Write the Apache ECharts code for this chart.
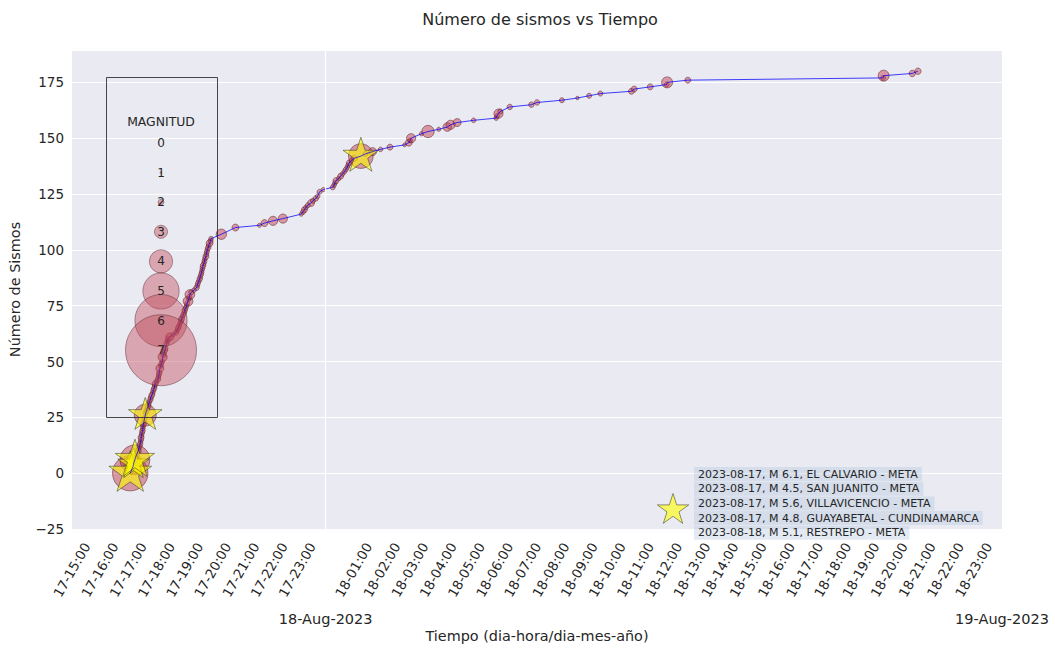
<!DOCTYPE html>
<html><head><meta charset="utf-8">
<script src="https://cdn.jsdelivr.net/npm/echarts@6/dist/echarts.min.js"></script>
<style>html,body{margin:0;padding:0;background:#fff}#c{width:1055px;height:648px}</style>
</head><body><div id="c"></div>
<script>
// ---- DATA ----
// time of each event: "DD HH:MM" (August 2023, UTC)
const tiempos = [
 '17 17:04','17 17:06','17 17:08','17 17:10','17 17:11','17 17:12','17 17:14','17 17:15','17 17:17','17 17:19',
 '17 17:21','17 17:22','17 17:24','17 17:25','17 17:26','17 17:27','17 17:27','17 17:28','17 17:29','17 17:30',
 '17 17:31','17 17:31','17 17:32','17 17:33','17 17:34','17 17:35','17 17:36','17 17:37','17 17:39','17 17:40',
 '17 17:42','17 17:43','17 17:45','17 17:47','17 17:48','17 17:50','17 17:52','17 17:53','17 17:55','17 17:56',
 '17 17:57','17 18:00','17 18:03','17 18:04','17 18:05','17 18:06','17 18:07','17 18:09','17 18:10','17 18:12',
 '17 18:13','17 18:15','17 18:16','17 18:18','17 18:19','17 18:21','17 18:23','17 18:25','17 18:28','17 18:35',
 '17 18:42','17 18:44','17 18:46','17 18:48','17 18:50','17 18:52','17 18:53','17 18:55','17 18:57','17 18:59',
 '17 19:00','17 19:02','17 19:04','17 19:05','17 19:07','17 19:09','17 19:10','17 19:11','17 19:14','17 19:20',
 '17 19:25','17 19:27','17 19:28','17 19:30','17 19:32','17 19:33','17 19:35','17 19:36','17 19:37','17 19:38',
 '17 19:39','17 19:41','17 19:42','17 19:43','17 19:45','17 19:46','17 19:47','17 19:48','17 19:50','17 19:51',
 '17 19:53','17 19:55','17 19:56','17 20:18','17 20:48','17 21:39','17 21:50','17 22:08','17 22:29','17 23:08',
 '17 23:12','17 23:15','17 23:18','17 23:22','17 23:29','17 23:33','17 23:39','17 23:43','17 23:47','17 23:55',
 '18 00:15','18 00:18','18 00:20','18 00:22','18 00:28','18 00:32','18 00:36','18 00:40','18 00:43','18 00:46',
 '18 00:48','18 00:50','18 00:55','18 01:01','18 01:15','18 01:25','18 01:40','18 01:57','18 02:17','18 02:48',
 '18 02:57','18 03:00','18 03:02','18 03:24','18 03:38','18 04:01','18 04:19','18 04:26','18 04:40','18 05:15',
 '18 06:03','18 06:05','18 06:08','18 06:12','18 06:32','18 07:18','18 07:30','18 08:23','18 08:56','18 09:21',
 '18 09:45','18 10:51','18 10:57','18 11:31','18 12:06','18 12:07','18 12:51','18 19:47','18 19:48','18 20:49',
 '18 21:01'
];
// cumulative number of earthquakes
const sismos = [
 0,1,2,3,4,5,6,7,8,9,
 10,11,12,13,14,15,16,17,18,19,
 20,21,22,23,24,25,26,27,28,29,
 30,31,32,33,34,35,36,37,38,39,
 40,41,42,43,44,45,47,48,49,50,
 52,53,54,55,56,58,59,60,61,62,
 63,64,65,66,67,68,69,70,71,72,
 73,74,75,76,77,78,79,80,81,82,
 83,84,85,86,87,88,89,90,91,92,
 93,94,95,96,97,98,99,100,101,102,
 103,104,105,107,110,111,112,113,114,116,
 117,118,119,120,121,122,123,124,126,127,
 128,129,130,131,132,133,134,135,136,137,
 138,139,140,141,142,143,144,145,146,147,
 148,149,150,152,153,154,155,156,157,158,
 159,160,161,162,164,165,166,167,168,169,
 170,171,172,173,174,175,176,177,178,179,
 180
];
// magnitude of each event
const magnitudes = [
 6.1,2.6,2.4,2.2,4.5,2.3,5.6,2.4,2.2,2.3,
 2.5,2.2,2.3,2.4,2.2,2.3,2.5,2.2,2.3,2.4,
 2.2,2.3,2.5,2.2,2.4,2.3,4.8,2.3,2.4,2.2,
 2.5,2.3,2.2,2.4,2.3,2.5,2.2,2.3,2.4,2.2,
 2.5,2.3,2.4,2.2,2.3,2.4,2.9,2.2,2.3,2.2,
 3.1,2.3,2.2,2.4,2.3,2.3,2.2,2.4,2.9,2.2,
 2.3,2.2,2.4,2.3,2.2,2.3,2.5,2.2,2.3,2.2,
 2.4,2.3,2.2,2.3,3.2,2.2,2.3,3.2,2.3,2.2,
 2.4,2.2,2.3,2.2,2.4,2.2,2.3,2.2,2.2,2.3,
 2.4,2.2,2.3,2.2,2.5,2.2,2.3,2.2,2.4,2.2,
 2.7,2.3,2.2,3.3,2.7,2.1,2.7,3.1,3.1,2.1,
 2.3,2.5,2.2,2.3,2.7,2.3,2.4,2.2,2.3,2.1,
 2.3,2.2,2.2,2.5,2.2,2.5,2.2,2.2,2.3,2.2,
 2.2,2.4,2.2,2.6,5.1,2.3,2.9,2.2,2.5,2.0,
 2.7,2.2,3.1,2.1,3.6,2.1,3.0,3.1,2.9,2.2,
 2.2,2.2,3.1,2.3,2.4,2.4,2.4,2.3,1.9,2.3,
 2.3,2.5,2.5,2.5,2.3,3.4,2.5,2.3,3.4,2.6,
 2.6
];
const magnitudLeyenda = [0,1,2,3,4,5,6,7];
const etiquetasEstrellas = [
 '2023-08-17, M 6.1, EL CALVARIO - META',
 '2023-08-17, M 4.5, SAN JUANITO - META',
 '2023-08-17, M 5.6, VILLAVICENCIO - META',
 '2023-08-17, M 4.8, GUAYABETAL - CUNDINAMARCA',
 '2023-08-18, M 5.1, RESTREPO - META'
];
const xInicio = '17 15:00', xFin = '19 00:00', lineaDia = '18 00:00';
const yMin = -25, yMax = 189.5, yPaso = 25;
const umbralEstrella = 4.5;

// ---- helpers ----
const HORA = 3600000;
const MESES = ['Jan','Feb','Mar','Apr','May','Jun','Jul','Aug','Sep','Oct','Nov','Dec'];
function toMs(s){const [d,hm]=s.split(' ');const [h,m]=hm.split(':').map(Number);return Date.UTC(2023,7,Number(d),h,m);}
const pad = n => String(n).padStart(2,'0');
const puntos = tiempos.map((t,i)=>[toMs(t), sismos[i], magnitudes[i]]);
const estrellas = puntos.filter(p=>p[2]>=umbralEstrella);
const STAR = 'path://M100,0L122.45,69.1L195.1,69.1L136.3,111.8L158.8,180.9L100,138.2L41.2,180.9L63.7,111.8L4.9,69.1L77.55,69.1Z';
function starPts(cx,cy,R){const pts=[];for(let k=0;k<10;k++){const a=-Math.PI/2+k*Math.PI/5;const r=k%2?R*0.382:R;pts.push([cx+r*Math.cos(a),cy+r*Math.sin(a)]);}return pts;}

const FONT = 'DejaVu Sans', TXT = '#262626';
const LEG_FILL = 'rgba(190,70,85,0.42)', LEG_EDGE = 'rgba(80,30,40,0.55)';
const CIRC_FILL = 'rgba(195,60,75,0.48)', CIRC_EDGE = 'rgba(85,30,35,0.65)';

// legend graphics
const graphics = [];
graphics.push({type:'rect', shape:{x:106.5,y:77.5,width:111,height:340}, style:{fill:'none',stroke:'rgba(40,40,40,0.85)',lineWidth:1}, z:100});
graphics.push({type:'text', x:161, y:121, style:{text:'MAGNITUD', font:'12.4px "DejaVu Sans"', fill:TXT, align:'center', verticalAlign:'middle'}, z:102});
magnitudLeyenda.forEach((m,i)=>{
  const cy = 143 + 29.6*i;
  const r = 1.45*m*m/2;
  if (r>0) graphics.push({type:'circle', shape:{cx:161,cy:cy,r:r}, style:{fill:LEG_FILL, stroke:LEG_EDGE, lineWidth:0.8}, z:101});
  graphics.push({type:'text', x:161, y:cy, style:{text:String(m), font:'12px "DejaVu Sans"', fill:TXT, align:'center', verticalAlign:'middle'}, z:102});
});
graphics.push({type:'polygon', shape:{points:starPts(673,510,16.5)}, style:{fill:'rgba(255,255,0,0.6)', stroke:'rgba(60,60,40,0.7)', lineWidth:0.8}, z:101});
etiquetasEstrellas.forEach((t,i)=>{
  graphics.push({type:'text', x:694, y:474+14.7*i, style:{text:t, font:'11px "DejaVu Sans"', fill:TXT, align:'left', verticalAlign:'middle', backgroundColor:'rgba(176,196,222,0.35)', padding:[2,4,1,4]}, z:102});
});

const chart = echarts.init(document.getElementById('c'), null, {renderer:'svg'});
chart.setOption({
  animation:false,
  textStyle:{fontFamily:FONT},
  title:{text:'Número de sismos vs Tiempo', left:535, top:6, textAlign:'center',
    textStyle:{fontSize:16, fontWeight:'normal', color:TXT, fontFamily:FONT}},
  grid:{left:68,right:53,top:50,bottom:116,show:true,backgroundColor:'#EAEAF2',borderWidth:0},
  xAxis:[{
    type:'value', min:toMs(xInicio), max:toMs(xFin), interval:HORA,
    axisLine:{show:false,onZero:false}, axisTick:{show:false}, splitLine:{show:false},
    axisLabel:{rotate:60, align:'center', verticalAlign:'middle', margin:41, fontSize:13.3, color:TXT, fontFamily:FONT,
      showMinLabel:true, showMaxLabel:true,
      formatter:v=>{const d=new Date(v);return d.getUTCHours()===0?'':pad(d.getUTCDate())+'-'+pad(d.getUTCHours())+':00';}},
    name:'Tiempo (dia-hora/dia-mes-año)', nameLocation:'middle', nameGap:100,
    nameTextStyle:{fontSize:14.4,color:TXT,fontFamily:FONT}
  },{
    type:'value', position:'bottom', min:toMs(xInicio), max:toMs(xFin), interval:HORA,
    axisLine:{show:false,onZero:false}, axisTick:{show:false}, splitLine:{show:false},
    axisLabel:{margin:82, fontSize:14.5, color:TXT, fontFamily:FONT, showMinLabel:true, showMaxLabel:true,
      formatter:v=>{const d=new Date(v);return d.getUTCHours()===0?pad(d.getUTCDate())+'-'+MESES[d.getUTCMonth()]+'-'+d.getUTCFullYear():'';}}
  }],
  yAxis:{
    type:'value', min:yMin, max:yMax, interval:yPaso,
    axisLine:{show:false}, axisTick:{show:false},
    splitLine:{lineStyle:{color:'#ffffff',width:1.2}},
    axisLabel:{margin:8, fontSize:13.5, color:TXT, fontFamily:FONT,
      formatter:v=> (v%yPaso!==0)?'':(v<0?'\u2212'+(-v):String(v))},
    name:'Número de Sismos', nameLocation:'middle', nameGap:50,
    nameTextStyle:{fontSize:14.4,color:TXT,fontFamily:FONT}
  },
  series:[
    {type:'line', data:[], z:1, silent:true,
     markLine:{silent:true, symbol:'none', label:{show:false}, animation:false,
       lineStyle:{color:'#ffffff',width:1.2,type:'solid'}, data:[{xAxis:toMs(lineaDia)}]}},
    {type:'scatter', data:puntos, z:2, silent:true,
     symbolSize:d=>0.95*d[2]*d[2],
     itemStyle:{color:CIRC_FILL,borderColor:CIRC_EDGE,borderWidth:0.8,opacity:1}},
    {type:'scatter', data:estrellas, z:3, silent:true, symbol:STAR, symbolKeepAspect:true, symbolOffset:[0,'-5%'],
     symbolSize:d=>7*d[2],
     itemStyle:{color:'rgba(255,255,0,0.6)',borderColor:'rgba(60,60,40,0.7)',borderWidth:0.8,opacity:1}},
    {type:'line', data:puntos.map(p=>[p[0],p[1]]), z:4, silent:true, showSymbol:false, symbol:'none',
     lineStyle:{color:'rgba(0,0,255,0.75)',width:1}}
  ],
  graphic:graphics
});
</script></body></html>
